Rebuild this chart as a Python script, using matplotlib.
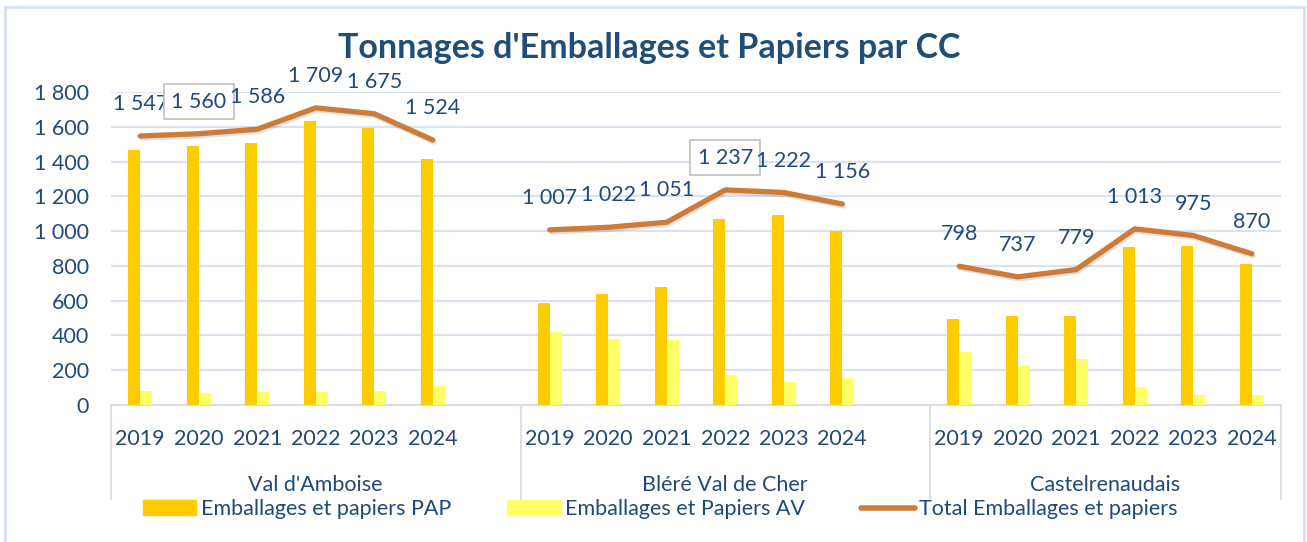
import numpy as np
import matplotlib
matplotlib.use("Agg")
import matplotlib.pyplot as plt
import matplotlib.patheffects as pe
from matplotlib.patches import Rectangle
from matplotlib.lines import Line2D
from matplotlib.transforms import blended_transform_factory

plt.rcParams['font.family'] = ['Lato', 'DejaVu Sans']

# data
groups = ["Val d'Amboise", "Bléré Val de Cher", "Castelrenaudais"]
years = ["2019", "2020", "2021", "2022", "2023", "2024"]

pap_amboise = [1467, 1489, 1509, 1632, 1595, 1415]
av_amboise = [80, 71, 77, 77, 80, 109]
total_amboise = [1547, 1560, 1586, 1709, 1675, 1524]

pap_blere = [587, 640, 678, 1067, 1092, 999]
av_blere = [420, 382, 373, 170, 130, 157]
total_blere = [1007, 1022, 1051, 1237, 1222, 1156]

pap_castel = [494, 513, 513, 910, 915, 810]
av_castel = [304, 224, 266, 103, 60, 60]
total_castel = [798, 737, 779, 1013, 975, 870]

boxed = [(0, 1), (1, 3)]  # (group, year) labels drawn with a frame

pap_all = [pap_amboise, pap_blere, pap_castel]
av_all = [av_amboise, av_blere, av_castel]
tot_all = [total_amboise, total_blere, total_castel]

c_pap = "#FFCC00"
c_av = "#FFFF66"
c_tot = "#CD7B38"
c_txt = "#1F497D"
c_grid = "#D9E2F3"
fs = 15.5

fig = plt.figure(figsize=(13.07, 5.42), dpi=100)
ax = fig.add_axes([111 / 1307, 137 / 542, 1170 / 1307, 313 / 542])

bw = 0.205
xt, xl = [], []
for g in range(3):
    x = np.arange(6) + g * 7
    ax.bar(x - bw / 2, pap_all[g], bw, color=c_pap, zorder=3)
    ax.bar(x + bw / 2, av_all[g], bw, color=c_av, zorder=3)
    ax.plot(x, tot_all[g], color=c_tot, lw=3.8, solid_capstyle='round',
            solid_joinstyle='round', zorder=4,
            path_effects=[pe.SimpleLineShadow(offset=(1, -1.5), alpha=0.12), pe.Normal()])
    for i, v in enumerate(tot_all[g]):
        s = f"{v:,}".replace(",", " ")
        kw = {}
        if (g, i) in boxed:
            kw['bbox'] = dict(boxstyle='square,pad=0.35', fc='white', ec='#BFBFBF', lw=1.2)
        ax.annotate(s, (x[i], v), xytext=(0, 23), textcoords='offset points',
                    ha='center', va='center', fontsize=fs, color=c_txt,
                    annotation_clip=False, zorder=6, **kw)
    xt.extend(x)
    xl.extend(years)

ax.set_xlim(-0.5, 19.5)
ax.set_ylim(0, 1800)
ax.set_yticks(range(0, 1801, 200))
ax.set_yticklabels([f"{v:,}".replace(",", " ") for v in range(0, 1801, 200)])
ax.set_xticks(xt)
ax.set_xticklabels(xl)
ax.tick_params(axis='both', length=0, labelsize=fs, labelcolor=c_txt)
ax.tick_params(axis='y', pad=16)
ax.tick_params(axis='x', pad=17)
ax.grid(axis='y', color=c_grid, lw=1.5, zorder=0)
for sp in ['top', 'right', 'left']:
    ax.spines[sp].set_visible(False)
ax.spines['bottom'].set_color("#D6DCE5")
ax.spines['bottom'].set_linewidth(1.5)

tr = blended_transform_factory(ax.transData, ax.transAxes)
for xb in [-0.5, 6.5, 13.5, 19.5]:
    ax.add_line(Line2D([xb, xb], [0, -0.30], transform=tr, color="#D6DCE5",
                       lw=1.2, clip_on=False))
for g, name in enumerate(groups):
    xc = (g * 7 - 0.5 + min(g * 7 + 6.5, 19.5)) / 2
    ax.text(xc, -0.255, name, transform=tr, ha='center', va='center',
            fontsize=fs, color=c_txt)

fig.text(0.497, 1 - 48 / 542, "Tonnages d'Emballages et Papiers par CC",
         ha='center', va='center', fontsize=24.5, fontweight='bold', color="#1F4E79")

handles = [Rectangle((0, 0), 1, 1, color=c_pap),
           Rectangle((0, 0), 1, 1, color=c_av),
           Line2D([], [], color=c_tot, lw=4, solid_capstyle='round')]
labels = ["Emballages et papiers PAP", "Emballages et Papiers AV",
          "Total Emballages et papiers"]
leg = fig.legend(handles, labels, loc='center', bbox_to_anchor=(0.505, 33 / 542),
                 ncol=3, frameon=False, fontsize=fs, handlelength=2.5,
                 handleheight=0.65, handletextpad=0.2, columnspacing=2.6)
for t in leg.get_texts():
    t.set_color(c_txt)

fig.patches.append(Rectangle((5 / 1307, -0.02), 1299 / 1307, (535 / 542) + 0.02,
                             transform=fig.transFigure, fill=False,
                             ec="#D6E0F0", lw=2))

fig.savefig("out.png", dpi=100)
